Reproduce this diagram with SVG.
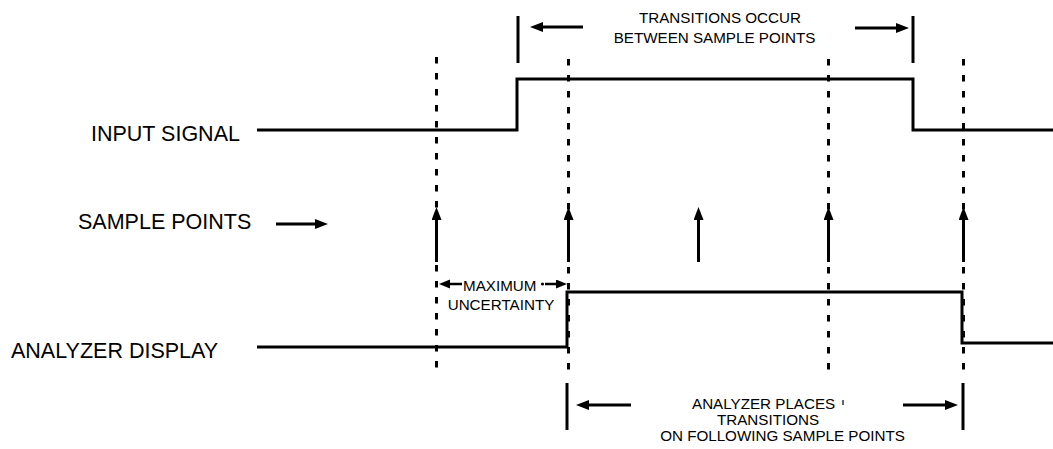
<svg xmlns="http://www.w3.org/2000/svg" width="1053" height="449" viewBox="0 0 1053 449">
<style>
text { font-family: "Liberation Sans", Arial, sans-serif; fill: #000; }
.big { font-size: 21.5px; }
.small { font-size: 15.2px; }
.mid { text-anchor: middle; }
.sig { fill: none; stroke: #000; stroke-width: 3; stroke-linejoin: miter; }
.dot { stroke: #000; stroke-width: 3; stroke-dasharray: 6.5 9.5; fill: none; }
.arr { stroke: #000; stroke-width: 3; fill: none; }
.arr2 { stroke: #000; stroke-width: 2.5; fill: none; }
.bar { stroke: #000; stroke-width: 3; }
</style>
<defs>
<marker id="ah" markerUnits="userSpaceOnUse" markerWidth="14" markerHeight="11" refX="5" refY="5" orient="auto">
<path d="M0,0 L13,5 L0,10 z" fill="#000"/>
</marker>
<marker id="ahs" markerUnits="userSpaceOnUse" markerWidth="12" markerHeight="10" refX="4" refY="4.5" orient="auto">
<path d="M0,0 L11,4.5 L0,9 z" fill="#000"/>
</marker>
</defs>
<rect width="1053" height="449" fill="#fff"/>

<g id="sample-lines">
<line class="dot" x1="436.5" y1="57" x2="436.5" y2="376"/>
<line class="dot" x1="568.5" y1="59" x2="568.5" y2="376"/>
<line class="dot" x1="828.5" y1="59" x2="828.5" y2="376"/>
<line class="dot" x1="963.5" y1="59" x2="963.5" y2="376"/>
</g>

<g id="input-signal">
<text class="big" x="91" y="141">INPUT SIGNAL</text>
<path class="sig" d="M257,130 H517 V79 H913 V130 H1053"/>
</g>

<g id="sample-points">
<text class="big" x="78" y="229">SAMPLE POINTS</text>
</g>

<g id="analyzer-display">
<text class="big" x="11" y="358">ANALYZER DISPLAY</text>
<path class="sig" d="M257,347 H567 V292 H962 V343 H1053"/>
</g>

<g id="transitions-label">
<line class="bar" x1="518" y1="16" x2="518" y2="63"/>
<line class="bar" x1="913" y1="16" x2="913" y2="63"/>
<text class="small mid" x="720" y="23">TRANSITIONS OCCUR</text>
<text class="small mid" x="714.5" y="43">BETWEEN SAMPLE POINTS</text>
</g>

<g id="uncertainty-label">
<text class="small" x="463" y="291">MAXIMUM</text>
<circle cx="542.5" cy="284" r="1.6" fill="#000"/>
<text class="small mid" x="501" y="310">UNCERTAINTY</text>
</g>

<g id="analyzer-label">
<line class="bar" x1="567" y1="383" x2="567" y2="430"/>
<line class="bar" x1="963" y1="383" x2="963" y2="430"/>
<text class="small" x="692" y="409">ANALYZER PLACES</text>
<line stroke="#000" stroke-width="1.2" x1="843" y1="400" x2="843" y2="405"/>
<text class="small mid" x="768" y="425">TRANSITIONS</text>
<text class="small mid" x="782.5" y="441">ON FOLLOWING SAMPLE POINTS</text>
</g>

<g id="connectors">
<line class="arr" x1="276" y1="224" x2="320" y2="224" marker-end="url(#ah)"/>
<line class="arr" x1="436.5" y1="262" x2="436.5" y2="215" marker-end="url(#ah)"/>
<line class="arr" x1="568.5" y1="262" x2="568.5" y2="215" marker-end="url(#ah)"/>
<line class="arr" x1="698.5" y1="262" x2="698.5" y2="215" marker-end="url(#ah)"/>
<line class="arr" x1="828.5" y1="262" x2="828.5" y2="215" marker-end="url(#ah)"/>
<line class="arr" x1="963.5" y1="262" x2="963.5" y2="215" marker-end="url(#ah)"/>
<line class="arr" x1="583" y1="27" x2="538" y2="27" marker-end="url(#ah)"/>
<line class="arr" x1="855" y1="28" x2="901" y2="28" marker-end="url(#ah)"/>
<line class="arr" x1="631" y1="405" x2="584" y2="405" marker-end="url(#ah)"/>
<line class="arr" x1="903" y1="405" x2="950" y2="405" marker-end="url(#ah)"/>
<line class="arr2" x1="462" y1="284" x2="446" y2="284" marker-end="url(#ahs)"/>
<line class="arr2" x1="545" y1="284" x2="560" y2="284" marker-end="url(#ahs)"/>
</g>
</svg>
